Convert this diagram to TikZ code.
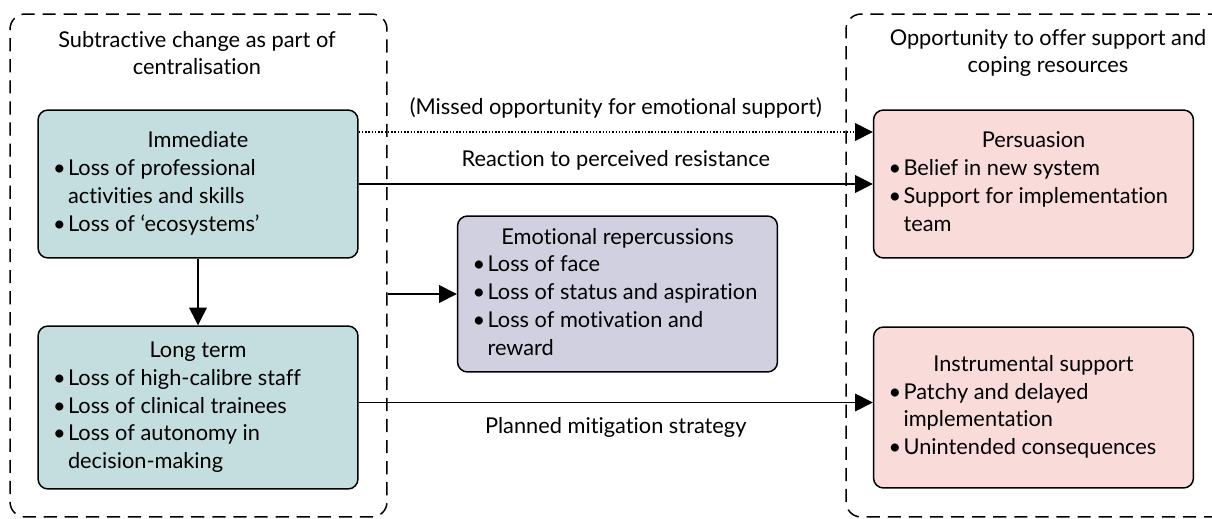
\documentclass[tikz,border=0pt]{standalone}
\usepackage{fontspec}
\setmainfont{Lato}[Ligatures=NoCommon]
\usetikzlibrary{arrows.meta, positioning}
\definecolor{lossTeal}{RGB}{196,222,224}
\definecolor{emoLilac}{RGB}{208,208,225}
\definecolor{supPink}{RGB}{249,220,218}
\newcommand{\bul}{\textbullet}
\newcommand{\cardhead}[1]{\multicolumn{2}{@{}c@{}}{\makebox[5.8cm]{#1}}}
\newenvironment{cardlist}{\begin{tabular}{@{}p{0.3cm}@{}l@{}}}{\end{tabular}}

\begin{document}
\begin{tikzpicture}[x=0.02cm, y=-0.02cm, >={Triangle[length=10pt, width=10pt]},
    font=\fontsize{12.4}{15.8}\selectfont,
    groupbox/.style={draw, line width=0.85pt, dash pattern=on 7.5pt off 4.5pt, rounded corners=0.3cm, inner sep=0pt},
    card/.style={draw, line width=0.85pt, rounded corners=0.2cm, minimum width=6.4cm, inner xsep=0pt},
    flow/.style={->, line width=0.85pt},
    dotflow/.style={->, line width=0.85pt, dash pattern=on 0.85pt off 1pt}]
    \useasboundingbox (0,0) rectangle (1212,519);

    % the two groups
    \node[groupbox, minimum width=7.54cm, minimum height=10.06cm] (leftgrp) at (198.5,265.5) {};
    \node[groupbox, minimum width=7.8cm, minimum height=10.06cm] (rightgrp) at (1041,265.5) {};
    \node[align=center, font=\fontsize{12.4}{15}\selectfont] (lefttitle) at (197,53) {Subtractive change as part of\\centralisation};
    \node[align=center, font=\fontsize{12.4}{15}\selectfont] (righttitle) at (1048,53) {Opportunity to offer support and\\coping resources};

    % boxes
    \node[card, fill=lossTeal, minimum height=2.96cm] (imm) at (198,184) {\begin{cardlist}
        \cardhead{Immediate}\\
        \bul & Loss of professional\\ & activities and skills\\
        \bul & Loss of `ecosystems'
        \end{cardlist}};
    \node[card, fill=lossTeal, minimum height=3.26cm] (lt) at (198,407.5) {\begin{cardlist}
        \cardhead{Long term}\\
        \bul & Loss of high-calibre staff\\
        \bul & Loss of clinical trainees\\
        \bul & Loss of autonomy in\\ & decision-making
        \end{cardlist}};
    \node[card, fill=emoLilac, minimum height=3.12cm] (emo) at (617.5,294) {\begin{cardlist}
        \cardhead{Emotional repercussions}\\
        \bul & Loss of face\\
        \bul & Loss of status and aspiration\\
        \bul & Loss of motivation and\\ & reward
        \end{cardlist}};
    \node[card, fill=supPink, minimum height=2.96cm] (pers) at (1033.5,184) {\begin{cardlist}
        \cardhead{Persuasion}\\
        \bul & Belief in new system\\
        \bul & Support for implementation\\ & team
        \end{cardlist}};
    \node[card, fill=supPink, minimum height=3.22cm] (inst) at (1033.5,407.5) {\begin{cardlist}
        \cardhead{Instrumental support}\\
        \bul & Patchy and delayed\\ & implementation\\
        \bul & Unintended consequences
        \end{cardlist}};

    % connectors
    \draw[flow] (imm) -- (lt);
    \draw[dotflow] ([yshift=1.04cm]imm.east) -- ([yshift=1.04cm]pers.west)
        node[midway, above=4pt] {(Missed opportunity for emotional support)};
    \draw[flow] (imm.east) -- (pers.west) node[midway, above=4pt] {Reaction to perceived resistance};
    \draw[flow] (leftgrp.east |- emo.west) -- (emo.west);
    \draw[flow] ([yshift=0.1cm]lt.east) -- ([yshift=0.1cm]inst.west)
        node[midway, below=5pt] {Planned mitigation strategy};
\end{tikzpicture}
\end{document}
